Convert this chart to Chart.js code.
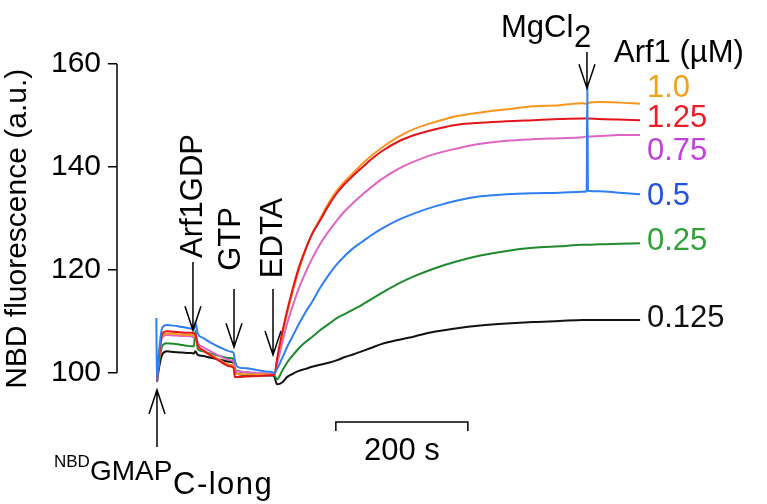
<!DOCTYPE html>
<html>
<head>
<meta charset="utf-8">
<script src="https://cdn.jsdelivr.net/npm/chart.js@4.4.1/dist/chart.umd.min.js"></script>
<style>
  html, body { margin: 0; padding: 0; background: #fff; }
  canvas { display: block; }
</style>
</head>
<body>
<canvas id="chart" width="767" height="504"></canvas>
<script>
//time in seconds (0 = addition of NBD-GMAP C-long)
const times = [-1, 0, 3, 8, 15, 25, 35, 45, 52,
  56, 58, 62, 70, 80, 95, 110, 116, 118,
  122, 135, 150, 165, 176, 178, 182, 190, 197,
  205, 215, 225, 235, 247, 260, 273, 285, 297,
  310, 323, 340, 365, 390, 420, 455, 490, 530,
  570, 610, 645, 651, 652, 653, 670, 700, 732];

//NBD fluorescence (a.u.) for each Arf1 concentration
const arf1_0_5 = [110.7, 98.3, 104, 108.8, 109.3, 109.2, 109, 108.8, 108.6,
  108.5, 109.8, 107.6, 106.8, 106, 105, 104.2, 103.9, 102.5,
  101.2, 100.9, 100.6, 100.3, 100.1, 100, 100.8, 103, 105,
  107, 109.5, 111.8, 113.8, 116.5, 119, 121.2, 122.8, 124.2,
  125.4, 126.6, 128, 129.7, 131, 132.3, 133.5, 134.3, 134.7,
  134.9, 135, 135.2, 135.3, 155.8, 135.4, 135.3, 135, 134.7];
const arf1_1_25 = [null, 98.3, 103, 107.6, 108.1, 108, 107.9, 107.8, 107.8,
  107.7, 107.5, 105.3, 104.4, 103.5, 102.3, 101.3, 101, 99.2,
  99.2, 99.3, 99.4, 99.5, 99.6, 99.6, 102.8, 108, 112,
  116, 120.5, 124, 127, 129.6, 132.5, 135, 136.8, 138.3,
  139.8, 141.3, 143, 144.9, 146.2, 147.3, 148.2, 148.6, 148.9,
  149.1, 149.3, 149.4, 149.4, 149.4, 149.4, 149.3, 149.2, 149.1];
const arf1_1_0 = [null, 98.3, 102.8, 107.2, 107.6, 107.6, 107.5, 107.4, 107.4,
  107.3, 107, 105.2, 104.4, 103.6, 102.5, 101.6, 101.3, 99.8,
  99.8, 99.7, 99.7, 99.7, 99.7, 99.7, 102.5, 107.5, 111.5,
  115.5, 120, 123.8, 127, 129.9, 133, 135.5, 137.3, 138.8,
  140.5, 142, 143.7, 145.8, 147.4, 148.7, 149.9, 150.6, 151.2,
  151.8, 152, 152.4, 152.3, 152.3, 152.4, 152.6, 152.5, 152.3];
const arf1_0_75 = [null, 98.3, 102.6, 107, 107.4, 107.3, 107.2, 107.2, 107.1,
  107, 107.5, 105.8, 105, 104.3, 103.3, 102.5, 102.2, 100.5,
  100.3, 100.2, 100, 99.9, 99.8, 99.8, 101.8, 106, 109.5,
  112.8, 116.5, 119.5, 122.2, 125, 127.5, 129.7, 131.5, 133,
  134.5, 135.9, 137.6, 139.6, 141.1, 142.5, 143.6, 144.5, 145.1,
  145.4, 145.6, 145.8, 145.9, 145.9, 145.9, 146, 146.2, 146.2];
const arf1_0_25 = [null, 98.3, 101.8, 105.3, 105.8, 105.7, 105.5, 105.3, 105.2,
  105.2, 108.2, 104.6, 104.2, 103.8, 103.3, 102.9, 102.7, 100.8,
  100.4, 100.1, 99.9, 99.8, 99.7, 99.5, 98.8, 100.5, 102,
  103.3, 104.8, 106, 107, 108.3, 109.5, 110.7, 111.5, 112.3,
  113.2, 114.2, 115.5, 117.3, 118.8, 120.3, 121.7, 122.8, 123.7,
  124.3, 124.6, 124.9, 124.9, 124.9, 124.9, 125, 125.1, 125.2];
const arf1_0_125 = [null, 98.3, 101, 103.6, 104.2, 104.1, 104, 103.9, 103.9,
  103.8, 104.2, 103.5, 103.3, 103, 102.6, 102.2, 102, 100.2,
  99.8, 99.6, 99.6, 99.5, 99.5, 99.2, 97.8, 98.2, 99.2,
  99.8, 100.4, 100.8, 101.2, 101.6, 102, 102.5, 103.1, 103.6,
  104.2, 104.8, 105.6, 106.4, 107.1, 108, 108.7, 109.2, 109.6,
  109.9, 110.1, 110.3, 110.3, 110.3, 110.3, 110.3, 110.3, 110.3];

const yTicks = [100, 120, 140, 160];

//label text, colour of trace, colour of label, label baseline (pixels)
const series = [
  { label: "0.5", data: arf1_0_5, line: "#2f7ff2", text: "#2152e0", base: 205 },
  { label: "1.25", data: arf1_1_25, line: "#e3141c", text: "#ee1c25", base: 127 },
  { label: "1.0", data: arf1_1_0, line: "#f8951f", text: "#eda21c", base: 97 },
  { label: "0.75", data: arf1_0_75, line: "#e064c4", text: "#c23fd9", base: 160 },
  { label: "0.25", data: arf1_0_25, line: "#1e8a2c", text: "#2ea236", base: 250 },
  { label: "0.125", data: arf1_0_125, line: "#111111", text: "#111111", base: 327 },
];

const FONT = "'Liberation Sans', Arial, Helvetica, sans-serif";

function arrow(ctx, x, yFrom, yTo) {
  const dir = yTo > yFrom ? 1 : -1;
  ctx.beginPath();
  ctx.moveTo(x, yFrom);
  ctx.lineTo(x, yTo);
  ctx.moveTo(x - 8, yTo - dir * 24);
  ctx.lineTo(x, yTo);
  ctx.lineTo(x + 8, yTo - dir * 24);
  ctx.stroke();
}

function vText(ctx, text, xBase, yMid) {
  ctx.save();
  ctx.translate(xBase, yMid);
  ctx.rotate(-Math.PI / 2);
  ctx.textAlign = "center";
  ctx.textBaseline = "alphabetic";
  ctx.fillText(text, 0, 0);
  ctx.restore();
}

//axis line, arrows, annotations
const annotations = {
  id: "annotations",
  afterDraw(chart) {
    const ctx = chart.ctx;
    const xs = chart.scales.x, ys = chart.scales.y;
    const X = (t) => xs.getPixelForValue(t);
    const Y = (v) => ys.getPixelForValue(v);
    ctx.save();
    ctx.strokeStyle = "#000";
    ctx.fillStyle = "#000";
    ctx.lineWidth = 1.5;

    //y axis line from 100 to 160
    ctx.beginPath();
    ctx.moveTo(chart.chartArea.left, Y(160));
    ctx.lineTo(chart.chartArea.left, Y(100));
    ctx.stroke();

    //addition arrows
    arrow(ctx, X(0), 447, Y(96.7));
    arrow(ctx, X(54.5), 262, Y(108.3));
    arrow(ctx, X(116.7), 289, Y(105));
    arrow(ctx, X(175.8), 289, Y(103.5));
    arrow(ctx, X(651.5), 52, Y(155.3));

    ctx.font = "31px " + FONT;
    vText(ctx, "Arf1GDP", 202, 196);
    vText(ctx, "GTP", 240, 239);
    vText(ctx, "EDTA", 282, 238);

    //MgCl2
    ctx.textAlign = "left";
    ctx.textBaseline = "alphabetic";
    ctx.fillText("MgCl", 501, 37);
    ctx.fillText("2", 574, 47);

    ctx.fillText("Arf1 (\u00b5M)", 614, 62);

    //concentration labels
    series.forEach((s) => {
      ctx.fillStyle = s.text;
      ctx.fillText(s.label, 647, s.base);
    });

    //NBD GMAP C-long
    ctx.fillStyle = "#000";
    ctx.font = "17px " + FONT;
    ctx.fillText("NBD", 54, 467);
    ctx.font = "28px " + FONT;
    ctx.fillText("GMAP", 90, 480);
    ctx.font = "31px " + FONT;
    ctx.letterSpacing = "1.5px";
    ctx.fillText("C-long", 173, 494);
    ctx.letterSpacing = "0px";

    //200 s scale bar
    const x0 = X(271), x1 = X(471);
    ctx.beginPath();
    ctx.moveTo(x0, 431);
    ctx.lineTo(x0, 422);
    ctx.lineTo(x1, 422);
    ctx.lineTo(x1, 431);
    ctx.stroke();
    ctx.textAlign = "center";
    ctx.font = "31px " + FONT;
    ctx.fillText("200 s", (x0 + x1) / 2, 460);
    ctx.restore();
  },
};

new Chart(document.getElementById("chart"), {
  type: "line",
  plugins: [annotations],
  data: {
    labels: times,
    datasets: series.map((s) => ({
      label: s.label,
      data: s.data.map((v, i) => ({ x: times[i], y: v })),
      borderColor: s.line,
      borderWidth: 2,
      pointRadius: 0,
      cubicInterpolationMode: "monotone",
      fill: false,
    })),
  },
  options: {
    responsive: false,
    animation: false,
    layout: { padding: { top: 64, bottom: 110.4, left: 0, right: 117 } },
    plugins: {
      legend: { display: false },
      tooltip: { enabled: false },
    },
    scales: {
      x: { type: "linear", display: false, min: -60.6, max: 747 },
      y: {
        min: 96,
        max: 160,
        afterBuildTicks: (s) => { s.ticks = yTicks.map((v) => ({ value: v })); },
        afterFit: (s) => { s.width = 117; },
        border: { display: false },
        grid: { drawOnChartArea: false, drawTicks: true, tickLength: 9, color: "#000", lineWidth: 1.5 },
        ticks: { color: "#000", padding: 7, font: { family: FONT, size: 30 } },
        title: {
          display: true,
          text: "NBD fluorescence (a.u.)",
          color: "#000",
          font: { family: FONT, size: 30 },
          padding: 0,
        },
      },
    },
  },
});
</script>
</body>
</html>
